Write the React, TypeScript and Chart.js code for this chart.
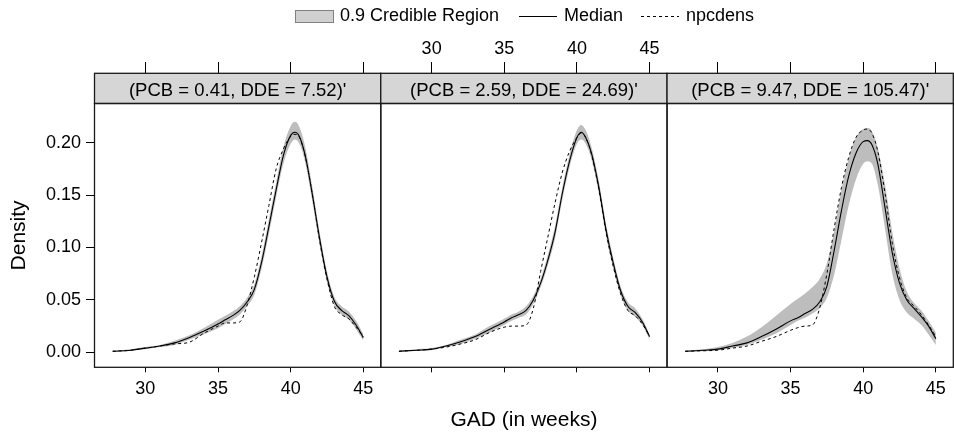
import React, { useEffect, useRef } from "react";
import { Chart, registerables } from "chart.js";

Chart.register(...registerables);

// ---------- data ----------
const GAD = [27.75, 29, 30, 31, 32, 33, 34, 35, 35.5, 36, 36.5, 37, 37.5, 38, 38.5, 39, 39.5, 40, 40.3, 40.6, 41, 41.5, 42, 42.5, 43, 43.5, 44, 44.5, 45];

const P1_MEDIAN = [0.001, 0.002, 0.004, 0.006, 0.009, 0.014, 0.020, 0.027, 0.031, 0.035, 0.040, 0.048, 0.060, 0.086, 0.120, 0.155, 0.188, 0.207, 0.210, 0.206, 0.188, 0.150, 0.108, 0.072, 0.049, 0.040, 0.035, 0.026, 0.014];
const P1_UPPER = [0.0015, 0.003, 0.005, 0.007, 0.011, 0.016, 0.023, 0.031, 0.035, 0.039, 0.044, 0.052, 0.065, 0.092, 0.127, 0.162, 0.196, 0.216, 0.220, 0.215, 0.196, 0.157, 0.114, 0.077, 0.053, 0.044, 0.039, 0.030, 0.017];
const P1_LOWER = [0.0005, 0.0015, 0.003, 0.005, 0.007, 0.012, 0.017, 0.023, 0.027, 0.031, 0.036, 0.044, 0.055, 0.080, 0.113, 0.148, 0.180, 0.199, 0.203, 0.199, 0.181, 0.143, 0.102, 0.067, 0.045, 0.036, 0.031, 0.022, 0.011];
const P1_NPC = [0.001, 0.002, 0.004, 0.006, 0.008, 0.0095, 0.018, 0.025, 0.028, 0.028, 0.029, 0.045, 0.072, 0.105, 0.140, 0.175, 0.194, 0.206, 0.208, 0.205, 0.187, 0.150, 0.106, 0.070, 0.044, 0.036, 0.032, 0.024, 0.015];

const P2_MEDIAN = [0.001, 0.002, 0.003, 0.006, 0.010, 0.015, 0.022, 0.029, 0.033, 0.036, 0.040, 0.050, 0.066, 0.088, 0.115, 0.152, 0.183, 0.205, 0.210, 0.205, 0.190, 0.158, 0.117, 0.085, 0.059, 0.044, 0.038, 0.029, 0.015];
const P2_UPPER = [0.0015, 0.003, 0.004, 0.007, 0.012, 0.017, 0.025, 0.032, 0.036, 0.039, 0.044, 0.054, 0.070, 0.093, 0.121, 0.158, 0.189, 0.212, 0.217, 0.212, 0.196, 0.164, 0.123, 0.090, 0.063, 0.048, 0.042, 0.032, 0.017];
const P2_LOWER = [0.0005, 0.0015, 0.002, 0.005, 0.008, 0.013, 0.019, 0.026, 0.030, 0.033, 0.036, 0.046, 0.062, 0.083, 0.109, 0.146, 0.177, 0.199, 0.203, 0.199, 0.184, 0.152, 0.111, 0.080, 0.055, 0.040, 0.034, 0.026, 0.012];
const P2_NPC = [0.001, 0.002, 0.003, 0.005, 0.008, 0.012, 0.019, 0.024, 0.025, 0.025, 0.026, 0.042, 0.077, 0.110, 0.143, 0.172, 0.192, 0.205, 0.209, 0.205, 0.189, 0.156, 0.115, 0.082, 0.056, 0.040, 0.035, 0.027, 0.015];

const P3_MEDIAN = [0.001, 0.002, 0.003, 0.006, 0.009, 0.015, 0.022, 0.030, 0.033, 0.037, 0.041, 0.048, 0.063, 0.097, 0.135, 0.168, 0.190, 0.201, 0.202, 0.198, 0.180, 0.138, 0.095, 0.066, 0.050, 0.042, 0.034, 0.025, 0.013];
const P3_UPPER = [0.0015, 0.003, 0.005, 0.009, 0.015, 0.024, 0.035, 0.046, 0.051, 0.056, 0.062, 0.070, 0.085, 0.115, 0.155, 0.185, 0.205, 0.213, 0.214, 0.211, 0.195, 0.160, 0.115, 0.080, 0.058, 0.047, 0.040, 0.030, 0.019];
const P3_LOWER = [0.0005, 0.001, 0.002, 0.004, 0.007, 0.012, 0.018, 0.026, 0.030, 0.033, 0.037, 0.042, 0.052, 0.074, 0.107, 0.140, 0.165, 0.180, 0.182, 0.180, 0.160, 0.118, 0.075, 0.050, 0.038, 0.032, 0.026, 0.017, 0.007];
const P3_NPC = [0.001, 0.0015, 0.002, 0.004, 0.006, 0.0105, 0.015, 0.021, 0.0235, 0.025, 0.026, 0.042, 0.075, 0.118, 0.157, 0.186, 0.205, 0.212, 0.213, 0.209, 0.192, 0.152, 0.104, 0.071, 0.052, 0.044, 0.036, 0.026, 0.015];

const STRIP_LABELS = ["(PCB = 0.41, DDE = 7.52)'", "(PCB = 2.59, DDE = 24.69)'", "(PCB = 9.47, DDE = 105.47)'"];
const LEGEND_LABELS = ["0.9 Credible Region", "Median", "npcdens"];
const X_TICKS = [30, 35, 40, 45];
const Y_TICKS = [0, 0.05, 0.1, 0.15, 0.2];
const X_TITLE = "GAD (in weeks)";
const Y_TITLE = "Density";

const X_MIN = 26.5;
const X_MAX = 46.2;
const Y_MIN = -0.0143;
const Y_MAX = 0.2374;

// ---------- style ----------
const FONT = '"Liberation Sans", Arial, Helvetica, sans-serif';
const BAND = "#bdbdbd";
const STRIP_FILL = "#d6d6d6";
const EDGE = "#1a1a1a";
const STRIP_TOP = 73.3;

const PANELS = [
  { axis: "x1", median: P1_MEDIAN, upper: P1_UPPER, lower: P1_LOWER, npc: P1_NPC },
  { axis: "x2", median: P2_MEDIAN, upper: P2_UPPER, lower: P2_LOWER, npc: P2_NPC },
  { axis: "x3", median: P3_MEDIAN, upper: P3_UPPER, lower: P3_LOWER, npc: P3_NPC },
];

const pts = (ys: number[]) => GAD.map((x, i) => ({ x, y: ys[i] }));

const panelPlugin = {
  id: "panelDecor",
  afterDraw(chart: any) {
    const { ctx, chartArea } = chart;
    ctx.save();
    // strips
    PANELS.forEach((p, i) => {
      const s = chart.scales[p.axis];
      ctx.fillStyle = STRIP_FILL;
      ctx.fillRect(s.left, STRIP_TOP, s.right - s.left, chartArea.top - STRIP_TOP);
      ctx.strokeStyle = EDGE;
      ctx.lineWidth = 1.3;
      ctx.strokeRect(s.left, STRIP_TOP, s.right - s.left, chartArea.top - STRIP_TOP);
      ctx.fillStyle = "#000";
      ctx.font = `18.5px ${FONT}`;
      ctx.textAlign = "center";
      ctx.textBaseline = "middle";
      ctx.fillText(STRIP_LABELS[i], (s.left + s.right) / 2, 90.5);
    });
    // panel borders
    PANELS.forEach((p) => {
      const s = chart.scales[p.axis];
      ctx.strokeStyle = EDGE;
      ctx.lineWidth = 1.3;
      ctx.strokeRect(s.left, chartArea.top, s.right - s.left, chartArea.bottom - chartArea.top);
    });
    // legend
    const ly = 16.5;
    ctx.font = `18px ${FONT}`;
    ctx.textAlign = "left";
    ctx.textBaseline = "middle";
    ctx.fillStyle = "#d0d0d0";
    ctx.fillRect(295, 10, 39, 13);
    ctx.strokeStyle = "#808080";
    ctx.lineWidth = 1;
    ctx.strokeRect(295.5, 10.5, 38, 12);
    ctx.fillStyle = "#000";
    ctx.fillText(LEGEND_LABELS[0], 340, ly);
    ctx.strokeStyle = "#000";
    ctx.beginPath();
    ctx.moveTo(519, ly);
    ctx.lineTo(557, ly);
    ctx.stroke();
    ctx.fillText(LEGEND_LABELS[1], 564, ly);
    ctx.setLineDash([3, 3]);
    ctx.beginPath();
    ctx.moveTo(641, ly);
    ctx.lineTo(679, ly);
    ctx.stroke();
    ctx.setLineDash([]);
    ctx.fillText(LEGEND_LABELS[2], 686, ly);
    ctx.restore();
  },
};

const setXTicks = (s: any) => {
  s.ticks = X_TICKS.map((value) => ({ value }));
};

function bottomAxis(showLabels: boolean, title: string | null) {
  return {
    type: "linear",
    position: "bottom",
    stack: "bottomPanels",
    min: X_MIN,
    max: X_MAX,
    afterBuildTicks: setXTicks,
    afterFit: (s: any) => {
      s.height = 65.7;
    },
    grid: { display: true, drawOnChartArea: false, drawTicks: true, tickLength: 5, color: "#000", lineWidth: 1 },
    border: { display: false },
    ticks: { display: showLabels, padding: 6, font: { size: 18 }, color: "#000", maxRotation: 0, autoSkip: false },
    title: title
      ? { display: true, text: title, font: { size: 21 }, color: "#000", padding: { top: 0, bottom: 0.4 } }
      : { display: false },
  };
}

function topAxis(showLabels: boolean) {
  return {
    type: "linear",
    position: "top",
    stack: "topPanels",
    min: X_MIN,
    max: X_MAX,
    afterBuildTicks: setXTicks,
    afterFit: (s: any) => {
      s.height = 103.5;
    },
    grid: { display: true, drawOnChartArea: false, drawTicks: true, tickLength: 41.5, color: "#000", lineWidth: 1 },
    border: { display: false },
    ticks: { display: showLabels, padding: 2.5, font: { size: 18 }, color: "#000", maxRotation: 0, autoSkip: false },
  };
}

export default function App() {
  const ref = useRef<HTMLCanvasElement | null>(null);

  useEffect(() => {
    if (!ref.current) return;
    Chart.defaults.font.family = FONT;
    const datasets: any[] = [];
    PANELS.forEach((p) => {
      datasets.push({
        label: "Median",
        data: pts(p.median),
        xAxisID: p.axis,
        yAxisID: "y",
        borderColor: "#000",
        borderWidth: 1.1,
        pointRadius: 0,
        fill: false,
        cubicInterpolationMode: "monotone",
      });
      datasets.push({
        label: "npcdens",
        data: pts(p.npc),
        xAxisID: p.axis,
        yAxisID: "y",
        borderColor: "#000",
        borderWidth: 1,
        borderDash: [3, 3],
        pointRadius: 0,
        fill: false,
        cubicInterpolationMode: "monotone",
      });
      datasets.push({
        label: "lower",
        data: pts(p.lower),
        xAxisID: p.axis,
        yAxisID: "y",
        borderWidth: 0,
        borderColor: "rgba(0,0,0,0)",
        pointRadius: 0,
        fill: false,
        cubicInterpolationMode: "monotone",
      });
      datasets.push({
        label: "0.9 Credible Region",
        data: pts(p.upper),
        xAxisID: p.axis,
        yAxisID: "y",
        borderWidth: 0,
        borderColor: "rgba(0,0,0,0)",
        backgroundColor: BAND,
        pointRadius: 0,
        fill: "-1",
        cubicInterpolationMode: "monotone",
      });
    });

    const chart = new Chart(ref.current, {
      type: "line",
      data: { datasets },
      options: {
        responsive: false,
        devicePixelRatio: 1,
        animation: false,
        layout: { padding: { left: 0, right: 2.5, top: 0, bottom: 0 } },
        plugins: { legend: { display: false }, tooltip: { enabled: false } },
        scales: {
          x1: bottomAxis(true, null),
          x2: bottomAxis(false, X_TITLE),
          x3: bottomAxis(true, null),
          xt1: topAxis(false),
          xt2: topAxis(true),
          xt3: topAxis(false),
          y: {
            type: "linear",
            position: "left",
            min: Y_MIN,
            max: Y_MAX,
            afterBuildTicks: (s: any) => {
              s.ticks = Y_TICKS.map((value) => ({ value }));
            },
            afterFit: (s: any) => {
              s.width = 94.5;
            },
            grid: { display: true, drawOnChartArea: false, drawTicks: true, tickLength: 8.5, color: "#000", lineWidth: 1 },
            border: { display: false },
            ticks: {
              padding: 5,
              font: { size: 18 },
              color: "#000",
              autoSkip: false,
              callback: (v: any) => Number(v).toFixed(2),
            },
            title: { display: true, text: Y_TITLE, font: { size: 21 }, color: "#000", padding: { top: 6.7, bottom: 0 } },
          },
        },
      } as any,
      plugins: [panelPlugin],
    });
    return () => chart.destroy();
  }, []);

  return (
    <div style={{ position: "absolute", left: 0, top: 0, width: 954, height: 433, overflow: "hidden", background: "#fff" }}>
      <canvas ref={ref} width={960} height={433} style={{ display: "block" }} />
    </div>
  );
}
